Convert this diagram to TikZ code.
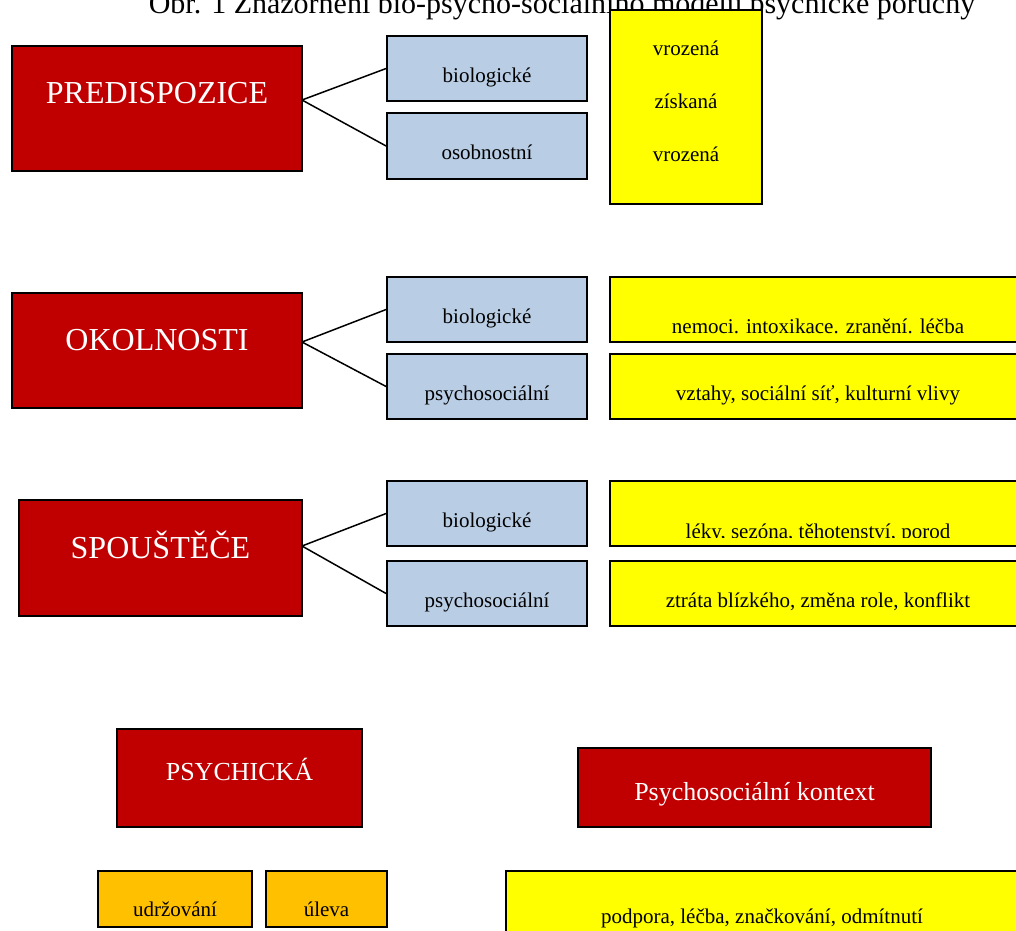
\documentclass[tikz,border=0pt]{standalone}
\usepackage{fontspec}
\setmainfont{Liberation Serif}
\definecolor{dred}{HTML}{C00000}
\definecolor{lblue}{HTML}{B9CDE5}
\definecolor{yel}{HTML}{FFFF00}
\definecolor{orng}{HTML}{FFC000}
\begin{document}
\begin{tikzpicture}[x=1pt,y=-1pt,
  box/.style={draw=black, line width=1.8pt, rectangle, inner sep=0pt},
  redbox/.style={box, fill=dred},
  bluebox/.style={box, fill=lblue, minimum width=200pt, minimum height=65pt},
  yelbox/.style={box, fill=yel},
  orbox/.style={box, fill=orng, minimum height=56pt},
  txt/.style={anchor=base, inner sep=0pt, font=\fontsize{21}{25}\selectfont},
  bigtxt/.style={txt, text=white, font=\fontsize{32}{38}\selectfont},
  midtxt/.style={txt, text=white, font=\fontsize{26}{31}\selectfont},
  link/.style={draw=black, line width=1.5pt}]
\useasboundingbox (0,0) rectangle (1016,930);
\clip (0,0) rectangle (1016,930);

% title (cut at top)
\node[txt, font=\fontsize{30}{36}\selectfont] (title) at (562,13) {Obr. 1 Znázornění bio-psycho-sociálního modelu psychické poruchy};

% PREDISPOZICE
\node[redbox, minimum width=290pt, minimum height=125pt] (pred) at (157,108.5) {};
\node[bigtxt] (predT) at (157,103) {PREDISPOZICE};
\node[bluebox] (bioA) at (487,68.5) {};
\node[txt] (bioAT) at (487,82) {biologické};
\node[bluebox, minimum height=66pt] (osobA) at (487,146) {};
\node[txt] (osobAT) at (487,159) {osobnostní};
\node[yelbox, minimum width=152pt, minimum height=194pt] (yelA) at (686,107) {};
\node[txt] (yelAT1) at (686,55) {vrozená};
\node[txt] (yelAT2) at (686,108) {získaná};
\node[txt] (yelAT3) at (686,161) {vrozená};
\coordinate (pj) at (302,100);
\draw[link] (pj) -- (bioA.west);
\draw[link] (pj) -- (osobA.west);

% OKOLNOSTI
\node[redbox, minimum width=290pt, minimum height=115pt] (okol) at (157,350.5) {};
\node[bigtxt] (okolT) at (157,350) {OKOLNOSTI};
\node[bluebox] (bioB) at (487,309.5) {};
\node[txt] (bioBT) at (487,323) {biologické};
\node[bluebox] (psyB) at (487,386.5) {};
\node[txt] (psyBT) at (487,400) {psychosociální};
\node[yelbox, minimum width=416pt, minimum height=65pt] (yelB1) at (818,309.5) {};
\node[txt] (yelB1T) at (818,333) {nemoci. intoxikace. zranění. léčba};
\node[yelbox, minimum width=416pt, minimum height=65pt] (yelB2) at (818,386.5) {};
\node[txt] (yelB2T) at (818,400) {vztahy, sociální síť, kulturní vlivy};
\coordinate (oj) at (302,342);
\draw[link] (oj) -- (bioB.west);
\draw[link] (oj) -- (psyB.west);

% SPOUSTECE
\node[redbox, minimum width=283pt, minimum height=116pt] (spou) at (160.5,558) {};
\node[bigtxt] (spouT) at (160.5,558) {SPOUŠTĚČE};
\node[bluebox] (bioC) at (487,513.5) {};
\node[txt] (bioCT) at (487,527) {biologické};
\node[bluebox] (psyC) at (487,593.5) {};
\node[txt] (psyCT) at (487,607) {psychosociální};
\node[yelbox, minimum width=416pt, minimum height=65pt] (yelC1) at (818,513.5) {};
\begin{scope}
  \clip (610,481) rectangle (1026,537.5);
  \node[txt] (yelC1T) at (818,538) {léky, sezóna, těhotenství, porod};
\end{scope}
\node[yelbox, minimum width=416pt, minimum height=65pt] (yelC2) at (818,593.5) {};
\node[txt] (yelC2T) at (818,607) {ztráta blízkého, změna role, konflikt};
\coordinate (sj) at (302,546);
\draw[link] (sj) -- (bioC.west);
\draw[link] (sj) -- (psyC.west);

% bottom
\node[redbox, minimum width=245pt, minimum height=98pt] (psych) at (239.5,778) {};
\node[midtxt] (psychT) at (239.5,780) {PSYCHICKÁ};
\node[redbox, minimum width=353pt, minimum height=79pt] (ctx) at (754.5,787.5) {};
\node[midtxt] (ctxT) at (754.5,800) {Psychosociální kontext};
\node[orbox, minimum width=154pt] (udr) at (175,899) {};
\node[txt] (udrT) at (175,916) {udržování};
\node[orbox, minimum width=121pt] (ulev) at (326.5,899) {};
\node[txt] (ulevT) at (326.5,916) {úleva};
\node[yelbox, minimum width=512pt, minimum height=79pt] (yelD) at (762,910.5) {};
\node[txt] (yelDT) at (762,923) {podpora, léčba, značkování, odmítnutí};
\end{tikzpicture}
\end{document}
